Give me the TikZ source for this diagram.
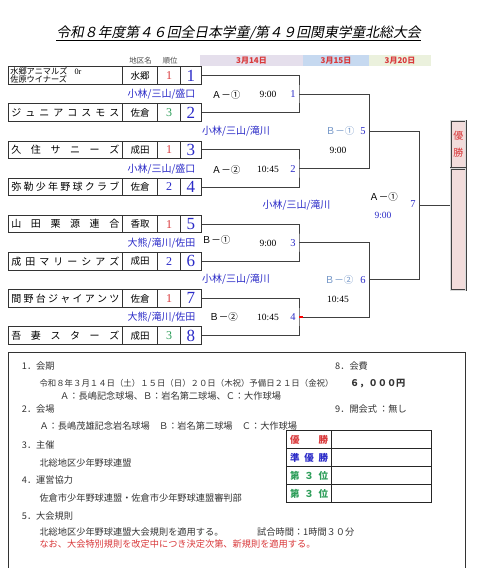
\documentclass[tikz,border=0pt]{standalone}
\usepackage{fontspec}
\setmainfont{Liberation Serif}
\newfontfamily\cjk{Noto Sans CJK JP}
\newfontfamily\cjkslant[FakeSlant=0.2]{Noto Sans CJK JP}
\usetikzlibrary{calc}
\definecolor{dred}{HTML}{D9383A}
\definecolor{dblue}{HTML}{2B2BC8}
\definecolor{dgreen}{HTML}{2E9E5A}
\definecolor{lblue}{HTML}{6F93C6}
\definecolor{bandP}{HTML}{E5DFEC}
\definecolor{bandB}{HTML}{C6D9F0}
\definecolor{bandG}{HTML}{EBF1DD}
\definecolor{pinkfill}{HTML}{F2DCDB}
\definecolor{txt}{HTML}{333333}
\newcommand\teamrow[6]{%
  \node[cellbox, minimum width=114.7pt] (t#1) at (65.35,#2) {#3};
  \node[cellbox, minimum width=35pt] (d#1) at (140.2,#2) {\cjk\fontsize{9.5}{10}\selectfont #4};
  \node[cellbox, minimum width=23pt, text=#6] (r#1) at (169.2,#2) {\fontsize{12}{12}\selectfont #5};
  \node[cellbox, minimum width=20.3pt, text=dblue] (n#1) at (190.85,#2) {\fontsize{17}{17}\selectfont #1};
}
\newcommand\spreadname[1]{\makebox[108pt][s]{\cjk\fontsize{10}{10}\selectfont #1}}
\begin{document}
\begin{tikzpicture}[x=1pt,y=-1pt,
  cellbox/.style={draw=black!80, line width=1pt, inner sep=0pt, minimum height=17.6pt},
  ln/.style={draw=black!75, line width=0.9pt},
  venue/.style={inner sep=0pt, text=dblue, font=\cjk\fontsize{10}{10}\selectfont},
  mlabel/.style={inner sep=0pt, text=black, font=\cjk\fontsize{9.5}{10}\selectfont},
  tlabel/.style={inner sep=0pt, text=black, font=\fontsize{9.5}{10}\selectfont},
  mnum/.style={inner sep=0pt, text=dblue, font=\fontsize{10.5}{10}\selectfont},
  band/.style={inner sep=0pt, minimum height=11pt, text=dred, font=\cjk\bfseries\fontsize{8}{8}\selectfont},
  info/.style={inner sep=0pt, anchor=west, text=txt, font=\cjk\fontsize{9.2}{10}\selectfont},
  rescell/.style={draw=black!85, line width=1pt, inner sep=0pt, minimum height=18pt},
  winbox/.style={draw=black!75, double=black!15, double distance=0.8pt, line width=0.8pt, fill=pinkfill, inner sep=0pt, minimum width=15pt}
]
\useasboundingbox (0,0) rectangle (489,568);
\fill[white] (0,0) rectangle (489,568);

% title
\node[inner sep=0pt, text=black, font=\cjkslant\fontsize{13.8}{14}\selectfont] (title) at (238.5,33) {令和８年度第４６回全日本学童/第４９回関東学童北総大会};
\draw[line width=0.8pt] ($(title.base west)+(0,2.5)$) -- ($(title.base east)+(0,2.5)$);

% headers and date bands
\node[inner sep=0pt, text=black!70, font=\cjk\fontsize{7.5}{8}\selectfont] (hd) at (140.5,61) {地区名};
\node[inner sep=0pt, text=black!70, font=\cjk\fontsize{7.5}{8}\selectfont] (hr) at (170,61) {順位};
\node[band, fill=bandP, minimum width=103pt] (dt1) at (251.5,60.5) {3月14日};
\node[band, fill=bandB, minimum width=66pt] (dt2) at (336,60.5) {3月15日};
\node[band, fill=bandG, minimum width=62pt] (dt3) at (400,60.5) {3月20日};

% teams
\teamrow{1}{75.5}{\parbox{110pt}{\cjk\fontsize{8.2}{8.4}\selectfont 水郷アニマルズ\hspace{7pt}{\rmfamily 0r}\\佐原ウイナーズ}}{水郷}{1}{dred}
\teamrow{2}{112.65}{\spreadname{ジ\hfill ュ\hfill ニ\hfill ア\hfill コ\hfill ス\hfill モ\hfill ス}}{佐倉}{3}{dgreen}
\teamrow{3}{149.8}{\spreadname{久\hfill 住\hfill サ\hfill ニ\hfill ー\hfill ズ}}{成田}{1}{dred}
\teamrow{4}{186.95}{\spreadname{弥\hfill 勒\hfill 少\hfill 年\hfill 野\hfill 球\hfill ク\hfill ラ\hfill ブ}}{佐倉}{2}{dblue}
\teamrow{5}{224.1}{\spreadname{山\hfill 田\hfill 栗\hfill 源\hfill 連\hfill 合}}{香取}{1}{dred}
\teamrow{6}{261.25}{\spreadname{成\hfill 田\hfill マ\hfill リ\hfill ー\hfill シ\hfill ア\hfill ズ}}{成田}{2}{dblue}
\teamrow{7}{298.4}{\spreadname{間\hfill 野\hfill 台\hfill ジ\hfill ャ\hfill イ\hfill ア\hfill ン\hfill ツ}}{佐倉}{1}{dred}
\teamrow{8}{335.55}{\spreadname{吾\hfill 妻\hfill ス\hfill タ\hfill ー\hfill ズ}}{成田}{3}{dgreen}

% winner box
\node[winbox, minimum height=47.6pt, align=center, text=dred, font=\cjk\fontsize{10}{17}\selectfont] (wina) at (458.35,144.5) {優\\勝};
\node[winbox, minimum height=121.7pt] (winb) at (458.35,229.15) {};

% bracket coordinates
\coordinate (qa) at (299,94.075);
\coordinate (qb) at (299,168.375);
\coordinate (qc) at (299,242.675);
\coordinate (qd) at (299,316.975);
\coordinate (sa) at (369.3,131.225);
\coordinate (sb) at (369.3,279.825);
\coordinate (fa) at (419.3,205.525);

\draw[ln] (n1.east) -| (qa) |- (n2.east);
\draw[ln] (n3.east) -| (qb) |- (n4.east);
\draw[ln] (n5.east) -| (qc) |- (n6.east);
\draw[ln] (n7.east) -| (qd) |- (n8.east);
\draw[ln] (qa) -| (sa) |- (qb);
\draw[ln] (qc) -| (sb) |- (qd);
\draw[ln] (sa) -| (fa) |- (sb);
\draw[ln] (fa) -- (fa -| winb.west);
\draw[draw=red, line width=1.3pt] (qd) -- ++(4,0);

% venue labels
\node[venue] (v1) at (161.5,94.3) {小林/三山/盛口};
\node[venue] (v2) at (161.5,169) {小林/三山/盛口};
\node[venue] (v3) at (161.5,242.7) {大熊/滝川/佐田};
\node[venue] (v4) at (161.5,316.7) {大熊/滝川/佐田};
\node[venue] (v5) at (236,131) {小林/三山/滝川};
\node[venue] (v6) at (236,279.3) {小林/三山/滝川};
\node[venue] (v7) at (296.5,205) {小林/三山/滝川};

% match labels round 1
\node[mlabel] (ma1) at (226,95) {Ａ－①};
\node[mlabel] (ma2) at (226,169.5) {Ａ－②};
\node[mlabel] (mb1) at (216,239.5) {Ｂ－①};
\node[mlabel] (mb2) at (223.5,317) {Ｂ－②};
\node[tlabel] (ta1) at (268,94.3) {9:00};
\node[tlabel] (ta2) at (268,169) {10:45};
\node[tlabel] (tb1) at (268,243) {9:00};
\node[tlabel] (tb2) at (268,317) {10:45};
\node[mnum] (g1) at (293,94.3) {1};
\node[mnum] (g2) at (293,169) {2};
\node[mnum] (g3) at (293,243) {3};
\node[mnum] (g4) at (293,317) {4};

% round 2
\node[mlabel, text=lblue] (sb1) at (340,131) {Ｂ－①};
\node[mnum] (g5) at (363,131) {5};
\node[tlabel] (ts1) at (338,150) {9:00};
\node[mlabel, text=lblue] (sb2) at (339,280) {Ｂ－②};
\node[mnum] (g6) at (363,280) {6};
\node[tlabel] (ts2) at (338,299) {10:45};

% final
\node[mlabel] (fa1) at (383.5,196.7) {Ａ－①};
\node[mnum] (g7) at (413,204.5) {7};
\node[tlabel, text=dblue] (tf) at (383,215) {9:00};

% info frame
\draw[draw=black!80, line width=1pt] (8.3,568) -- (8.3,352.7) -- (465,352.7) -- (465,568);

\node[info] (i1) at (21.7,366) {1．会期};
\node[info, font=\cjk\fontsize{8.4}{10}\selectfont] (i1a) at (39.3,383.3) {令和８年３月１４日（土）１５日（日）２０日（木祝）予備日２１日（金祝）};
\node[info, font=\cjk\bfseries\fontsize{9.2}{10}\selectfont] (fee) at (350,383.3) {６，０００円};
\node[info] (i1b) at (60,396) {Ａ：長嶋記念球場、Ｂ：岩名第二球場、Ｃ：大作球場};
\node[info] (i2) at (21.7,409.3) {2．会場};
\node[info] (i8) at (335,366) {8．会費};
\node[info] (i9) at (335,409.3) {9．開会式 ：無し};
\node[info] (i2a) at (39.3,425.7) {Ａ：長嶋茂雄記念岩名球場　Ｂ：岩名第二球場　Ｃ：大作球場};
\node[info] (i3) at (21.7,445) {3．主催};
\node[info] (i3a) at (39.3,462.7) {北総地区少年野球連盟};
\node[info] (i4) at (21.7,480) {4．運営協力};
\node[info] (i4a) at (39.3,497.7) {佐倉市少年野球連盟・佐倉市少年野球連盟審判部};
\node[info] (i5) at (21.7,516) {5．大会規則};
\node[info] (i5a) at (39.3,531.7) {北総地区少年野球連盟大会規則を適用する。};
\node[info] (i5b) at (257,531.7) {試合時間：1時間３０分};
\node[info, text=dred] (i5c) at (39.3,544.3) {なお、大会特別規則を改定中につき決定次第、新規則を適用する。};

% results table
\node[rescell, minimum width=45pt, text=dred, font=\cjk\bfseries\fontsize{9.5}{10}\selectfont] (p1) at (309.2,439.7) {\makebox[38pt][s]{優\hfill 勝}};
\node[rescell, minimum width=100pt] (w1) at (381.7,439.7) {};
\node[rescell, minimum width=45pt, text=dblue, font=\cjk\bfseries\fontsize{9.5}{10}\selectfont] (p2) at (309.2,457.7) {\makebox[38pt][s]{準\hfill 優\hfill 勝}};
\node[rescell, minimum width=100pt] (w2) at (381.7,457.7) {};
\node[rescell, minimum width=45pt, text=dgreen, font=\cjk\bfseries\fontsize{9.5}{10}\selectfont] (p3) at (309.2,475.7) {\makebox[38pt][s]{第\hfill ３\hfill 位}};
\node[rescell, minimum width=100pt] (w3) at (381.7,475.7) {};
\node[rescell, minimum width=45pt, text=dgreen, font=\cjk\bfseries\fontsize{9.5}{10}\selectfont] (p4) at (309.2,493.7) {\makebox[38pt][s]{第\hfill ３\hfill 位}};
\node[rescell, minimum width=100pt] (w4) at (381.7,493.7) {};
\end{tikzpicture}
\end{document}
